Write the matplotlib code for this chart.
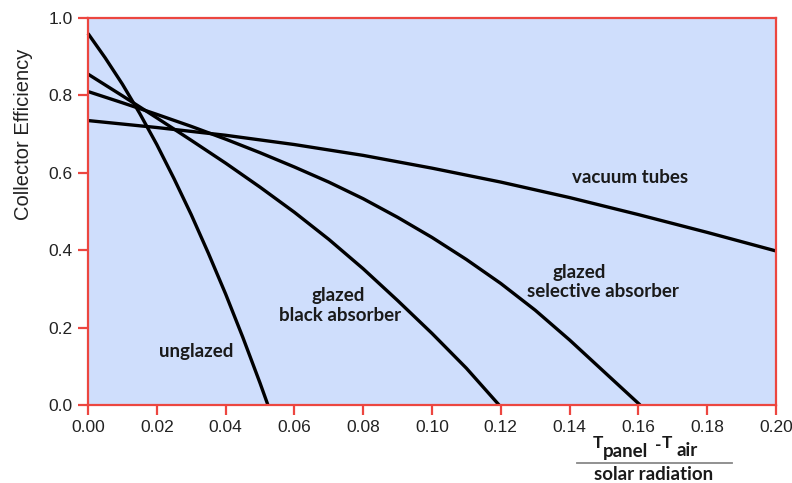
import matplotlib
matplotlib.use("Agg")
import matplotlib.pyplot as plt

# efficiency curves, x = (T_panel - T_air) / solar radiation
unglazed_x = [0.0, 0.005, 0.01, 0.015, 0.02, 0.025, 0.03, 0.035, 0.04, 0.045, 0.05, 0.0523]
unglazed_y = [0.96, 0.897, 0.829, 0.754, 0.673, 0.585, 0.492, 0.392, 0.287, 0.175, 0.057, 0.0]

black_x = [0.0, 0.01, 0.02, 0.03, 0.04, 0.05, 0.06, 0.07, 0.08, 0.09, 0.10, 0.11, 0.1195]
black_y = [0.855, 0.799, 0.742, 0.684, 0.625, 0.563, 0.498, 0.428, 0.352, 0.270, 0.185, 0.095, 0.0]

selective_x = [0.0, 0.01, 0.02, 0.03, 0.04, 0.05, 0.06, 0.07, 0.08, 0.09, 0.10, 0.11, 0.12, 0.13, 0.14, 0.15, 0.1605]
selective_y = [0.810, 0.781, 0.751, 0.720, 0.687, 0.652, 0.615, 0.576, 0.533, 0.485, 0.433, 0.376, 0.314, 0.245, 0.168, 0.086, 0.0]

vacuum_x = [0.0, 0.02, 0.04, 0.06, 0.08, 0.10, 0.12, 0.14, 0.16, 0.18, 0.20]
vacuum_y = [0.735, 0.717, 0.697, 0.673, 0.645, 0.612, 0.576, 0.536, 0.492, 0.446, 0.398]

x_ticks = [0.00, 0.02, 0.04, 0.06, 0.08, 0.10, 0.12, 0.14, 0.16, 0.18, 0.20]
y_ticks = [0.0, 0.2, 0.4, 0.6, 0.8, 1.0]

red = "#ec4640"
lbl_font = "Lato"
lbl_size = 13.5

fig = plt.figure(figsize=(7.92, 4.83), dpi=100)
ax = fig.add_axes([88 / 792, 78 / 483, 688 / 792, 387 / 483])
ax.set_facecolor("#cfdefc")

for xs, ys in [(unglazed_x, unglazed_y), (black_x, black_y),
               (selective_x, selective_y), (vacuum_x, vacuum_y)]:
    ax.plot(xs, ys, color="black", lw=2.4, solid_joinstyle="round",
            solid_capstyle="butt", clip_on=False)

ax.set_xlim(0, 0.2)
ax.set_ylim(0, 1.0)
ax.set_xticks(x_ticks)
ax.set_xticklabels(["%.2f" % v for v in x_ticks])
ax.set_yticks(y_ticks)
ax.set_yticklabels(["%.1f" % v for v in y_ticks])

for s in ax.spines.values():
    s.set_color(red)
    s.set_linewidth(1.6)
ax.tick_params(direction="out", length=7, width=1.6, color=red,
               labelcolor="#222222", pad=4)
for t in ax.get_xticklabels() + ax.get_yticklabels():
    t.set_fontfamily("Liberation Sans")
    t.set_fontsize(12.5)

ax.set_ylabel("Collector Efficiency", fontsize=14.5, family="Liberation Sans", color="#222222")
ax.yaxis.set_label_coords(-0.08, 0.70)

# curve names
tkw = dict(ha="center", va="center", fontsize=lbl_size, fontweight="bold",
           family=lbl_font, color="#1a1a1a")
ax.text(0.0314, 0.137, "unglazed", **tkw)
ax.text(0.0727, 0.283, "glazed", **tkw)
ax.text(0.0733, 0.232, "black absorber", **tkw)
ax.text(0.1427, 0.343, "glazed", **tkw)
ax.text(0.1497, 0.294, "selective absorber", **tkw)
ax.text(0.1576, 0.589, "vacuum tubes", **tkw)

# x axis label drawn as a fraction
def fx(px):
    return px / 792

def fy(py):
    return 1 - py / 483

kw = dict(fontweight="bold", family=lbl_font, color="#1a1a1a", ha="center", va="center")
fig.text(fx(598), fy(443), "T", fontsize=12.5, **kw)
fig.text(fx(626), fy(451), "panel", fontsize=13.5, **kw)
fig.text(fx(658), fy(445), "-", fontsize=12.5, **kw)
fig.text(fx(667), fy(443), "T", fontsize=12.5, **kw)
fig.text(fx(687), fy(451), "air", fontsize=13.5, **kw)
fig.add_artist(plt.Line2D([fx(577), fx(732)], [fy(462.5), fy(462.5)],
                          color="#888888", lw=1.3, transform=fig.transFigure))
fig.text(fx(654), fy(474), "solar radiation", fontsize=13.5, **kw)

fig.savefig("out.png", dpi=100)
